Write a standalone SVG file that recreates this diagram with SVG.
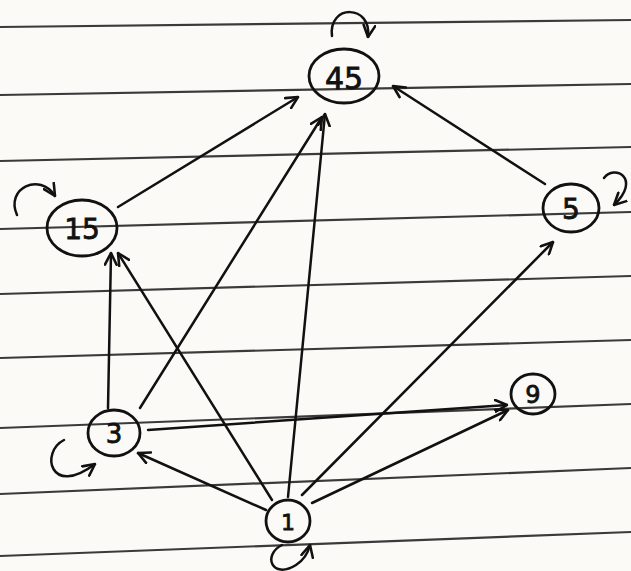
<svg xmlns="http://www.w3.org/2000/svg" width="631" height="571" viewBox="0 0 631 571">
<defs>
<marker id="ah" viewBox="0 0 12 12" refX="11" refY="6" markerWidth="14" markerHeight="14" markerUnits="userSpaceOnUse" orient="auto">
<path d="M1,1 L11,6 L1,11" fill="none" stroke="#111" stroke-width="2.2" stroke-linecap="round" stroke-linejoin="round"/>
</marker>
<style>
.rule{stroke:#3a3a3a;stroke-width:2.2;fill:none}
.node ellipse{fill:none;stroke:#111;stroke-width:2.8}
.node text{font-family:"DejaVu Sans","Liberation Sans",sans-serif;fill:#111;stroke:#111;stroke-width:0.8;text-anchor:middle;dominant-baseline:central}
.edge{fill:none;stroke:#111;stroke-width:2.5;stroke-linecap:round;marker-end:url(#ah)}
</style>
</defs>
<rect width="631" height="571" fill="#fcfaf7"/>
<g id="ruled-lines">
<path class="rule" d="M0,27 L631,20"/>
<path class="rule" d="M0,95 L631,84"/>
<path class="rule" d="M0,161 L631,147"/>
<path class="rule" d="M0,229 L631,212"/>
<path class="rule" d="M0,294 L631,276"/>
<path class="rule" d="M0,358 L631,340"/>
<path class="rule" d="M0,428 L631,404"/>
<path class="rule" d="M0,494 L631,468"/>
<path class="rule" d="M0,556 L631,532"/>
</g>
<g id="connectors">
<path class="edge" d="M118,207 L298,97"/>
<path class="edge" d="M140,408 L322,117"/>
<path class="edge" d="M288,497 L325,114"/>
<path class="edge" d="M545,184 L393,86"/>
<path class="edge" d="M108,408 L111,253"/>
<path class="edge" d="M272,500 L118,253"/>
<path class="edge" d="M302,495 L553,242"/>
<path class="edge" d="M148,430 L507,405"/>
<path class="edge" d="M312,503 L508,410"/>
<path class="edge" d="M266,510 L138,453"/>
<path class="edge" d="M332,36 C328,4 372,4 368,37"/>
<path class="edge" d="M17,215 C5,188 40,172 55,196"/>
<path class="edge" d="M604,178 C614,164 642,178 614,205"/>
<path class="edge" d="M64,440 C40,452 50,498 95,464"/>
<path class="edge" d="M282,545 C262,555 272,580 296,565 C304,560 308,553 310,545"/>
</g>
<g id="n45" class="node"><ellipse cx="344" cy="76" rx="35" ry="27"/><text x="344" y="78" font-size="30">45</text></g>
<g id="n15" class="node"><ellipse cx="82" cy="228" rx="35" ry="28"/><text x="82" y="229" font-size="28">15</text></g>
<g id="n5" class="node"><ellipse cx="571" cy="208" rx="28" ry="24"/><text x="571" y="209" font-size="28">5</text></g>
<g id="n3" class="node"><ellipse cx="114" cy="433" rx="26" ry="23"/><text x="114" y="434" font-size="26">3</text></g>
<g id="n9" class="node"><ellipse cx="533" cy="394" rx="22" ry="20"/><text x="533" y="395" font-size="24">9</text></g>
<g id="n1" class="node"><ellipse cx="288" cy="521" rx="22" ry="21"/><text x="288" y="522" font-size="22">1</text></g>
</svg>
